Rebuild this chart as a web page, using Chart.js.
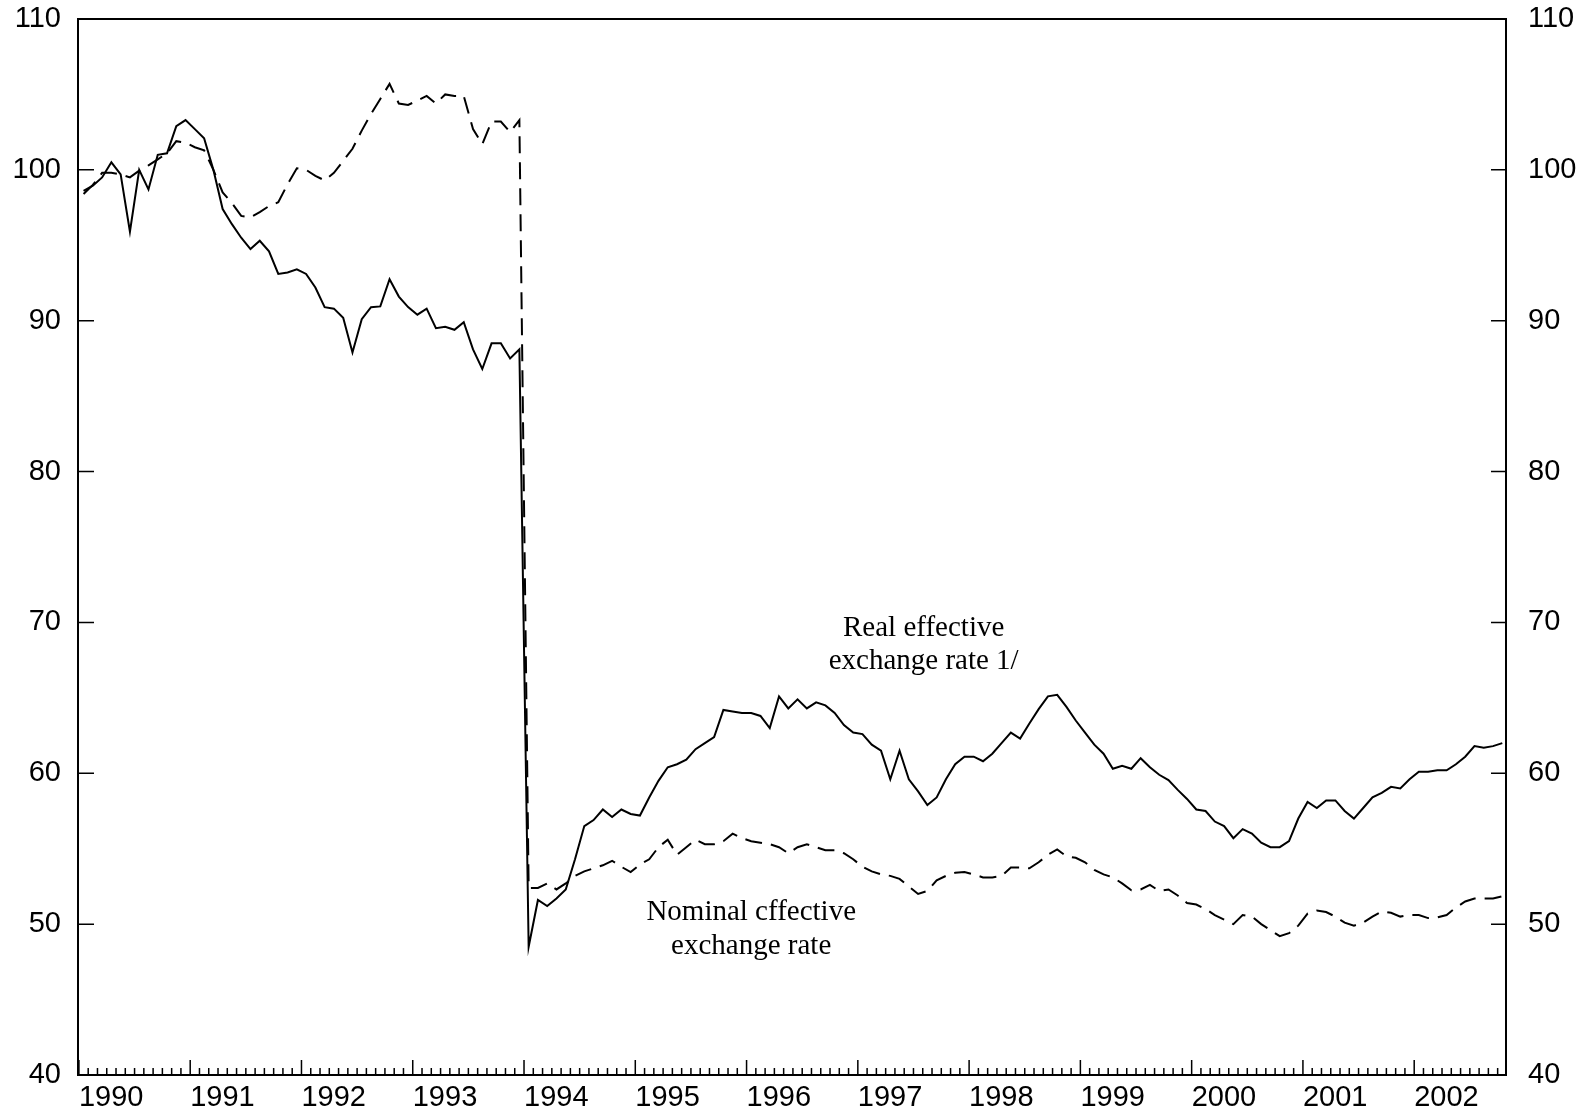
<!DOCTYPE html>
<html>
<head>
<meta charset="utf-8">
<script src="https://cdn.jsdelivr.net/npm/chart.js@4.4.0/dist/chart.umd.min.js"></script>
<style>
  html, body { margin: 0; padding: 0; background: #fff; }
  #wrap { width: 1581px; height: 1110px; }
</style>
</head>
<body>
<div id="wrap"><canvas id="rateChart" width="1581" height="1110"></canvas></div>
<script>
// monthly index values, Jan 1990 - Oct 2002
const yearLabels = ['1990', '1991', '1992', '1993', '1994', '1995', '1996',
  '1997', '1998', '1999', '2000', '2001', '2002'];

const realRate = [
  98.6, 98.95, 99.5, 100.5, 99.7, 95.9, 100.0, 98.7, 101.0, 101.1, 102.9, 103.3,
  102.7, 102.1, 100.0, 97.4, 96.4, 95.5, 94.75, 95.3, 94.6, 93.1, 93.2, 93.4,
  93.1, 92.2, 90.9, 90.8, 90.2, 87.9, 90.1, 90.9, 90.95, 92.75, 91.6, 90.9,
  90.4, 90.8, 89.5, 89.6, 89.4, 89.9, 88.1, 86.8, 88.5, 88.5, 87.5, 88.1,
  48.5, 51.6, 51.2, 51.7, 52.3, 54.3, 56.5, 56.9, 57.6, 57.1, 57.6, 57.3,
  57.2, 58.4, 59.5, 60.4, 60.6, 60.9, 61.6, 62.0, 62.4, 64.2, 64.1, 64.0,
  64.0, 63.8, 63.0, 65.1, 64.3, 64.9, 64.3, 64.7, 64.5, 64.0, 63.2, 62.7,
  62.6, 61.9, 61.5, 59.6, 61.5, 59.6, 58.8, 57.9, 58.4, 59.6, 60.6, 61.1,
  61.1, 60.8, 61.3, 62.0, 62.7, 62.3, 63.3, 64.25, 65.1, 65.2, 64.4, 63.5,
  62.7, 61.9, 61.3, 60.3, 60.5, 60.3, 61.0, 60.4, 59.9, 59.55, 58.9, 58.3,
  57.6, 57.5, 56.8, 56.5, 55.7, 56.3, 56.0, 55.4, 55.1, 55.1, 55.5, 57.0,
  58.1, 57.7, 58.2, 58.2, 57.5, 57.0, 57.7, 58.4, 58.7, 59.1, 59.0, 59.6,
  60.1, 60.1, 60.2, 60.2, 60.6, 61.1, 61.8, 61.7, 61.8, 62.0
];

const nominalRate = [
  98.4, 99.0, 99.8, 99.8, 99.7, 99.5, 99.95, 100.3, 100.7, 101.1, 101.9, 101.8,
  101.5, 101.3, 100.0, 98.5, 97.8, 96.95, 96.85, 97.2, 97.6, 97.85, 99.05, 100.1,
  100.0, 99.6, 99.3, 99.8, 100.6, 101.4, 102.6, 103.7, 104.7, 105.7, 104.4, 104.3,
  104.6, 104.9, 104.4, 105.0, 104.9, 104.9, 102.7, 101.7, 103.2, 103.2, 102.5, 103.3,
  52.4, 52.4, 52.7, 52.3, 52.7, 53.2, 53.5, 53.7, 53.9, 54.2, 53.8, 53.45,
  53.95, 54.3, 55.1, 55.6, 54.6, 55.1, 55.6, 55.3, 55.3, 55.5, 56.0, 55.7,
  55.5, 55.4, 55.3, 55.1, 54.7, 55.1, 55.3, 55.1, 54.9, 54.9, 54.7, 54.3,
  53.8, 53.5, 53.3, 53.2, 53.0, 52.5, 52.0, 52.2, 52.9, 53.2, 53.4, 53.45,
  53.3, 53.1, 53.1, 53.2, 53.75, 53.75, 53.7, 54.1, 54.6, 54.95, 54.5, 54.4,
  54.1, 53.6, 53.3, 53.1, 52.7, 52.25, 52.3, 52.6, 52.2, 52.3, 51.9, 51.4,
  51.3, 51.0, 50.6, 50.3, 50.0, 50.6, 50.5, 50.0, 49.6, 49.2, 49.4, 49.9,
  50.7, 50.9, 50.8, 50.5, 50.1, 49.9, 50.1, 50.5, 50.85, 50.75, 50.5, 50.6,
  50.6, 50.4, 50.45, 50.6, 51.1, 51.5, 51.7, 51.7, 51.7, 51.85
];

const yTicks = [40, 50, 60, 70, 80, 90, 100, 110];

// text labels placed in data units (month index, index value)
const notes = [
  { lines: ['Real effective', 'exchange rate 1/'], x: 90.6, y: [69.6, 67.45] },
  { lines: ['Nominal cffective', 'exchange rate'], x: 72.0, y: [50.75, 48.55] }
];

const toPoints = arr => arr.map((v, i) => ({ x: i, y: v }));

const axisFont = { family: "'Liberation Sans', Arial, sans-serif", size: 29 };

// keep the y labels from pushing the plot area in
const noOverhang = scale => {
  scale.paddingTop = 0;
  scale.paddingBottom = 0;
};

// frame, inward tick marks and text notes
const framePlugin = {
  id: 'framePlugin',
  afterDraw(chart) {
    const ctx = chart.ctx;
    const a = chart.chartArea;
    const xs = chart.scales.x;
    const ys = chart.scales.y;
    ctx.save();
    ctx.strokeStyle = '#000';
    ctx.lineWidth = 2;
    ctx.strokeRect(a.left, a.top, a.right - a.left, a.bottom - a.top);

    ctx.lineWidth = 1.5;
    ctx.beginPath();
    for (let m = 0; m <= realRate.length; m++) {
      const px = xs.getPixelForValue(m - 0.5);
      if (px <= a.left + 0.5 || px >= a.right) continue;
      const len = m % 12 === 0 ? 15 : 7;
      ctx.moveTo(px, a.bottom);
      ctx.lineTo(px, a.bottom - len);
    }
    yTicks.forEach(v => {
      const py = ys.getPixelForValue(v);
      ctx.moveTo(a.left, py);
      ctx.lineTo(a.left + 16, py);
      ctx.moveTo(a.right, py);
      ctx.lineTo(a.right - 15, py);
    });
    ctx.stroke();

    ctx.fillStyle = '#000';
    ctx.font = "29px 'Liberation Serif', 'Times New Roman', serif";
    ctx.textAlign = 'center';
    ctx.textBaseline = 'middle';
    notes.forEach(n => {
      n.lines.forEach((t, k) => {
        ctx.fillText(t, xs.getPixelForValue(n.x), ys.getPixelForValue(n.y[k]));
      });
    });
    ctx.restore();
  }
};

const ctx = document.getElementById('rateChart');
new Chart(ctx, {
  type: 'line',
  data: {
    datasets: [{
      label: 'Real effective exchange rate 1/',
      data: toPoints(realRate),
      borderColor: '#000',
      borderWidth: 2,
      pointRadius: 0,
      tension: 0,
      fill: false
    }, {
      label: 'Nominal effective exchange rate',
      data: toPoints(nominalRate),
      borderColor: '#000',
      borderWidth: 2,
      borderDash: [17, 9],
      pointRadius: 0,
      tension: 0,
      fill: false
    }]
  },
  options: {
    responsive: false,
    animation: false,
    layout: { padding: { top: 19, left: 0, right: 0, bottom: 0 } },
    plugins: {
      legend: { display: false },
      tooltip: { enabled: false }
    },
    scales: {
      x: {
        type: 'linear',
        position: 'bottom',
        min: -0.6,
        max: 153.4,
        grid: { display: false, drawTicks: false },
        border: { display: false },
        afterBuildTicks: scale => {
          scale.ticks = yearLabels.map((y, k) => ({ value: 12 * k - 0.5 }));
        },
        afterFit: scale => {
          scale.height = 35;
          scale.paddingLeft = 0;
          scale.paddingRight = 0;
        },
        ticks: {
          autoSkip: false,
          maxRotation: 0,
          align: 'start',
          padding: 6,
          color: '#000',
          font: axisFont,
          callback: (value, index) => yearLabels[index]
        }
      },
      y: {
        position: 'left',
        min: 40,
        max: 110,
        grid: { display: false, drawTicks: false },
        border: { display: false },
        afterFit: scale => { scale.width = 78; noOverhang(scale); },
        ticks: { stepSize: 10, padding: 17, color: '#000', font: axisFont }
      },
      y2: {
        position: 'right',
        min: 40,
        max: 110,
        grid: { display: false, drawTicks: false },
        border: { display: false },
        afterFit: scale => { scale.width = 75; noOverhang(scale); },
        ticks: { stepSize: 10, padding: 22, color: '#000', font: axisFont }
      }
    }
  },
  plugins: [framePlugin]
});
</script>
</body>
</html>
